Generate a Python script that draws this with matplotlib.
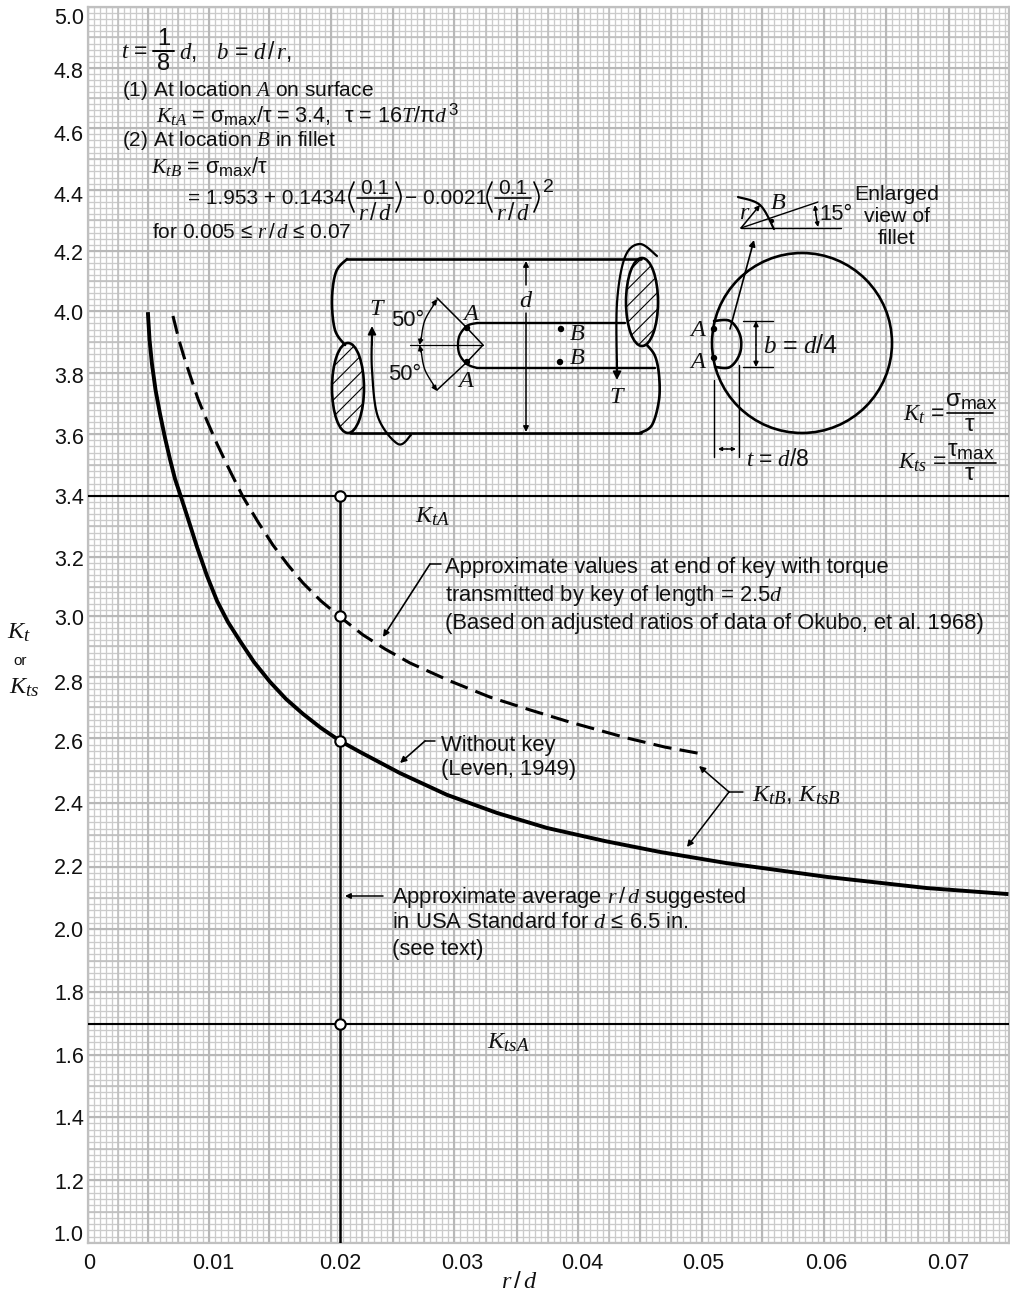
import numpy as np
import matplotlib
matplotlib.use("Agg")
import matplotlib.pyplot as plt
import matplotlib._mathtext as mt
from matplotlib.patches import Ellipse, Circle
from matplotlib.transforms import ScaledTranslation

plt.rcParams['font.family'] = ['Liberation Sans', 'DejaVu Sans']
plt.rcParams['mathtext.fontset'] = 'custom'
plt.rcParams['mathtext.rm'] = 'Liberation Sans'
plt.rcParams['mathtext.it'] = 'Liberation Serif:italic'
plt.rcParams['mathtext.bf'] = 'Liberation Sans:bold'
plt.rcParams['hatch.linewidth'] = 0.8
# subscripts in the book are bigger than the mathtext default
mt.SHRINK_FACTOR = 0.78

# ---------------- DATA ---------------- #

# solid curve, without key
rd_nokey = [0.0050, 0.00513, 0.00533, 0.00563, 0.0060, 0.00642, 0.00683, 0.00725, 0.00774, 0.00839,
            0.00903, 0.00984, 0.01065, 0.01153, 0.0125, 0.01371, 0.01508, 0.01637, 0.01774, 0.01919,
            0.02073, 0.02234, 0.02557, 0.02943, 0.03341, 0.03746, 0.04218, 0.04661, 0.05208, 0.06024,
            0.06826, 0.0746]
kt_nokey = [3.99, 3.906, 3.829, 3.744, 3.666, 3.587, 3.519, 3.455, 3.397, 3.315,
            3.233, 3.136, 3.051, 2.980, 2.918, 2.849, 2.784, 2.728, 2.679, 2.633,
            2.591, 2.557, 2.492, 2.425, 2.369, 2.322, 2.281, 2.247, 2.212, 2.168,
            2.132, 2.113]

# dashed curve, end of key
rd_key = [0.00708, 0.00758, 0.00806, 0.00911, 0.00984, 0.01065, 0.01169, 0.01276, 0.01405, 0.01532,
          0.01653, 0.01774, 0.01919, 0.02073, 0.02258, 0.02435, 0.02639, 0.02967, 0.03286, 0.03607,
          0.03934, 0.04395, 0.04702, 0.05]
kt_key = [3.984, 3.906, 3.842, 3.715, 3.643, 3.568, 3.481, 3.397, 3.315, 3.239,
          3.173, 3.112, 3.051, 2.997, 2.938, 2.892, 2.846, 2.787, 2.734, 2.692,
          2.652, 2.60, 2.572, 2.551]

ktA = 3.4
ktsA = 1.7
rd_avg = 0.0207
kt_circles = [3.4, 3.0, 2.592, 1.7]

x_ticks = [0, 0.01, 0.02, 0.03, 0.04, 0.05, 0.06, 0.07]
x_labels = ['0', '0.01', '0.02', '0.03', '0.04', '0.05', '0.06', '0.07']
y_ticks = [1.0, 1.2, 1.4, 1.6, 1.8, 2.0, 2.2, 2.4, 2.6, 2.8, 3.0,
           3.2, 3.4, 3.6, 3.8, 4.0, 4.2, 4.4, 4.6, 4.8, 5.0]

# the printed grid is slightly uneven, so the scales follow it (pixel of each line)
x_scale_vals = [0, 0.0025, 0.005, 0.0075, 0.01, 0.0125, 0.015, 0.02, 0.025, 0.03, 0.035,
                0.04, 0.045, 0.05, 0.055, 0.06, 0.065, 0.07, 0.0748]
x_scale_px = [88, 118, 148, 178, 209, 240, 269, 331, 393, 454, 517,
              578, 640, 702, 762, 824, 886, 949, 1009]
y_scale_px = [1243, 1180, 1117, 1055, 992, 929, 867, 803, 738, 677, 616,
              557, 496, 434, 373, 311, 251, 190, 128, 68, 7]
# label nudges in pixels, the labels do not sit exactly on the lines
x_label_dx = [1, 4, 9, 8, 4, 1, 2, -1]
y_label_dy = [-10, 1, 0, 0, 0, 0, -1, 0, 3, 5, 1, 1, 0, 2, 2, 1, 1, 4, 5, 2, 9]

# ---------------- AXES ---------------- #

W, H = 1010, 1297
fig = plt.figure(figsize=(W / 100, H / 100), dpi=100)
ax = fig.add_axes([88 / W, 1 - 1243 / H, (1009 - 88) / W, (1243 - 7) / H])

neg_y_px = [-p for p in y_scale_px]
ax.set_xscale('function', functions=(lambda v: np.interp(v, x_scale_vals, x_scale_px),
                                     lambda p: np.interp(p, x_scale_px, x_scale_vals)))
ax.set_yscale('function', functions=(lambda v: np.interp(v, y_ticks, neg_y_px),
                                     lambda p: np.interp(p, neg_y_px, y_ticks)))
ax.set_xlim(0, 0.0748)
ax.set_ylim(1.0, 5.0)

# graph paper
fine = '#cbcbcb'
mid = '#c0c0c0'
heavy = '#b8b8b8'
xs = np.arange(0, 150) * 0.0005
ys = 1.0 + np.arange(0, 201) * 0.02
ax.vlines(xs, 1.0, 5.0, color=fine, lw=0.95, zorder=1)
ax.hlines(ys, 0, 0.0748, color=fine, lw=0.95, zorder=1)
ax.vlines(xs[::5], 1.0, 5.0, color=mid, lw=1.2, zorder=1.1)
ax.hlines(ys[::5], 0, 0.0748, color=mid, lw=1.2, zorder=1.1)
ax.vlines(xs[::10], 1.0, 5.0, color=heavy, lw=1.5, zorder=1.2)
ax.hlines(ys[::10], 0, 0.0748, color=heavy, lw=1.5, zorder=1.2)

for s in ax.spines.values():
    s.set_color('#c0c0c0')
    s.set_linewidth(1.6)

ax.set_xticks(x_ticks, x_labels)
ax.set_yticks(y_ticks, [f'{v:.1f}' for v in y_ticks])
ax.minorticks_off()
ax.tick_params(axis='both', length=0, labelsize=15.5, colors='#111111')
ax.tick_params(axis='x', pad=7)
ax.tick_params(axis='y', pad=3)
for lab, dx in zip(ax.get_xticklabels(), x_label_dx):
    lab.set_transform(lab.get_transform() + ScaledTranslation(dx / 100, 0, fig.dpi_scale_trans))
for lab, dy in zip(ax.get_yticklabels(), y_label_dy):
    lab.set_transform(lab.get_transform() + ScaledTranslation(0, -dy / 100, fig.dpi_scale_trans))

# curves and lines
ax.axhline(ktA, color='k', lw=1.5, zorder=3)
ax.axhline(ktsA, color='k', lw=1.5, zorder=3)
ax.plot([rd_avg, rd_avg], [1.0, ktA], color='k', lw=1.8, zorder=3)
ax.plot(rd_nokey, kt_nokey, color='k', lw=2.8, solid_joinstyle='round', zorder=4)
ax.plot(rd_key, kt_key, color='k', lw=2.2, linestyle=(0, (6.0, 2.7)), zorder=4)
ax.plot([rd_avg] * 4, kt_circles, 'o', ms=7.5, mfc='white', mec='k', mew=1.5, zorder=5)

# ---------------- OVERLAY (pixel coordinates) ---------------- #

ov = fig.add_axes([0, 0, 1, 1], facecolor='none')
ov.set_xlim(0, W)
ov.set_ylim(H, 0)
ov.axis('off')

SANS = 15.85
BLOCK = 15.0
MATH = 17.5


def txt(x, y, s, size=SANS, ha='left', **kw):
    ov.text(x, y + 1, s, fontsize=size, ha=ha, va='center', color='#111111', **kw)


def line(pts, lw=1.2):
    p = np.array(pts, dtype=float)
    ov.plot(p[:, 0], p[:, 1], color='k', lw=lw, solid_capstyle='round', solid_joinstyle='round')


def smooth(pts, lw=1.9):
    # Catmull-Rom through the points, for the hand drawn outlines
    p = np.array(pts, dtype=float)
    p = np.vstack([p[0], p, p[-1]])
    out = []
    for i in range(1, len(p) - 2):
        t = np.linspace(0, 1, 20)[:, None]
        out.append(0.5 * (2 * p[i] + (p[i + 1] - p[i - 1]) * t
                          + (2 * p[i - 1] - 5 * p[i] + 4 * p[i + 1] - p[i + 2]) * t ** 2
                          + (3 * p[i] - p[i - 1] - 3 * p[i + 1] + p[i + 2]) * t ** 3))
    out = np.vstack(out)
    ov.plot(out[:, 0], out[:, 1], color='k', lw=lw, solid_capstyle='round')


def arrow(tail, tip, lw=1.1, size=9, style='-|>'):
    ov.annotate('', xy=tip, xytext=tail,
                arrowprops=dict(arrowstyle=style, color='k', lw=lw, mutation_scale=size,
                                shrinkA=0, shrinkB=0))


def dot(x, y, r=3.2):
    ov.add_patch(Circle((x, y), r, fc='k', ec='none'))


def paren_frac(cx):
    # (0.1 over r/d) with tall brackets
    txt(cx, 187, '0.1', ha='center', size=BLOCK)
    txt(cx, 212, r'$r\,/\,d$', ha='center', size=16.5)
    line([(cx - 18, 198), (cx + 18, 198)], 1.2)
    smooth([(cx - 21, 182), (cx - 26, 197), (cx - 21, 212)], 1.2)
    smooth([(cx + 21, 182), (cx + 26, 197), (cx + 21, 212)], 1.2)


# formula block
txt(121, 51, r'$t\,=$', size=16.5)
txt(164, 38, '1', ha='center', size=17)
txt(164, 63, '8', ha='center', size=17)
line([(153, 51), (174, 51)], 1.4)
txt(179, 51, r'$d,\ \ \ b\,=\,d\,/\,r,$', size=16.5)
txt(122, 90, r'(1) At location $A$ on surface', size=BLOCK)
txt(156, 114, r'$K_{tA}\,=\,\mathrm{\sigma_{max}}/\mathrm{\tau}\,=\,\mathrm{3.4,}\ \ \mathrm{\tau}\,=\,\mathrm{16}T/\mathrm{\pi}d^{\,\mathrm{3}}$', size=15.6)
txt(122, 139, r'(2) At location $B$ in fillet', size=BLOCK)
txt(151, 166, r'$K_{tB}\,=\,\mathrm{\sigma_{max}}/\mathrm{\tau}$', size=15.6)
txt(188, 197, '= 1.953 + 0.1434', size=BLOCK)
paren_frac(375)
txt(405, 197, '− 0.0021', size=BLOCK)
paren_frac(513)
txt(543, 186, '2', size=14)
txt(152, 232, r'for 0.005 ≤ $r\,/\,d$ ≤ 0.07', size=BLOCK)

# shaft drawing
ov.add_patch(Ellipse((348, 388), 32, 90, fc='none', ec='k', lw=1.9, hatch='//'))
ov.add_patch(Ellipse((642, 302), 32, 88, fc='none', ec='k', lw=1.9, hatch='//'))
line([(347, 259), (641, 259)], 1.9)
line([(350, 433), (641, 433)], 1.9)
smooth([(347, 259), (336, 272), (332, 300), (335, 330), (345, 345)])
smooth([(647, 345), (655, 356), (659, 375), (659, 400), (652, 425), (640, 433)])
line([(477, 323), (625, 323)], 1.7)
line([(477, 368), (655, 368)], 1.7)
smooth([(477, 323), (467, 326), (459, 337), (459, 353), (467, 364), (477, 368)], 1.7)
dot(467, 328)
dot(467, 362)
line([(437, 298), (467, 328), (483, 345), (467, 362), (437, 390)], 1.1)
line([(410, 345), (483, 345)], 0.9)
smooth([(421, 340), (425, 320), (437, 300)], 1.0)
smooth([(421, 350), (425, 370), (437, 390)], 1.0)
arrow((433, 305), (437, 299), size=7)
arrow((421, 338), (419.5, 345), size=7)
arrow((421, 352), (419.5, 345), size=7)
arrow((433, 385), (437, 391), size=7)
txt(408, 320, '50°', ha='center')
txt(405, 373, '50°', ha='center')
txt(377, 308, r'$T$', ha='center', size=MATH)
txt(617, 396, r'$T$', ha='center', size=MATH)
txt(471, 313, r'$A$', ha='center', size=MATH)
txt(466, 380, r'$A$', ha='center', size=MATH)
dot(561, 329)
dot(560, 362)
txt(577, 333, r'$B$', ha='center', size=MATH)
txt(577, 357, r'$B$', ha='center', size=MATH)
txt(526, 300, r'$d$', ha='center', size=MATH)
arrow((526, 285), (526, 261), size=8)
arrow((526, 313), (526, 432), size=8)
smooth([(372, 335), (372, 370), (378, 417), (398, 444), (411, 435)], 1.6)
arrow((372, 345), (372, 326), lw=1.3, size=12)
smooth([(657, 256), (640, 244), (625, 257), (617, 303), (617, 372)], 1.6)
arrow((617, 360), (617, 380), lw=1.3, size=12)

# cross section drawing
ov.add_patch(Circle((802, 343), 90, fc='none', ec='k', lw=1.9))
smooth([(714, 321), (730, 321), (740, 335), (740, 353), (730, 367), (715, 367)], 1.9)
dot(714, 329)
dot(714, 358)
txt(698, 329, r'$A$', ha='center', size=MATH)
txt(698, 361, r'$A$', ha='center', size=MATH)
arrow((730, 329), (754, 240), lw=1.2, size=9)
line([(743, 321), (773, 321)], 1.0)
line([(743, 367), (773, 367)], 1.0)
arrow((756, 345), (756, 321), size=7)
arrow((756, 345), (756, 367), size=7)
txt(763, 345, r'$b\,=\,d/\mathrm{4}$', size=18)
line([(714, 380), (714, 457)], 1.0)
line([(739, 365), (739, 457)], 1.0)
arrow((727, 449), (718, 449), size=5)
arrow((727, 449), (736, 449), size=5)
txt(746, 458, r'$t\,=\,d/\mathrm{8}$', size=16.5)

# enlarged fillet
line([(741, 228), (841, 228)], 1.0)
line([(741, 228), (818, 202)], 1.0)
smooth([(738, 197), (760, 205), (774, 229)], 1.6)
arrow((741, 228), (760, 205), size=7)
dot(772, 221, 2.2)
txt(745, 212, r'$r$', ha='center', size=MATH)
txt(778, 202, r'$B$', ha='center', size=MATH)
arrow((816, 215), (815, 205), size=6)
arrow((816, 215), (818, 227), size=6)
txt(836, 213, '15°', ha='center', size=SANS)
txt(897, 193, 'Enlarged', ha='center', size=15.3)
txt(897, 215, 'view of', ha='center', size=15.3)
txt(897, 237, 'fillet', ha='center', size=15.3)

# definitions on the right
txt(903, 413, r'$K_t\,=$', size=16.5)
line([(947, 413), (993, 413)], 1.2)
txt(971, 400, r'$\mathrm{\sigma_{max}}$', ha='center', size=MATH)
txt(970, 424, r'$\mathrm{\tau}$', ha='center', size=MATH)
txt(898, 461, r'$K_{ts}\,=$', size=16.5)
line([(949, 463), (996, 463)], 1.2)
txt(971, 450, r'$\mathrm{\tau_{max}}$', ha='center', size=MATH)
txt(970, 473, r'$\mathrm{\tau}$', ha='center', size=MATH)

# curve labels
txt(415, 516, r'$K_{tA}$', size=MATH)
txt(487, 1042, r'$K_{tsA}$', size=MATH)
txt(445, 566, 'Approximate values  at end of key with torque')
txt(445, 594, r'transmitted by key of length = 2.5$d$')
txt(445, 622, '(Based on adjusted ratios of data of Okubo, et al. 1968)')
line([(441, 564), (430, 564)], 1.1)
arrow((430, 564), (383, 637), lw=1.2, size=9)
txt(441, 744, 'Without key')
txt(441, 769, '(Leven, 1949)')
line([(435, 741), (425, 741)], 1.1)
arrow((425, 741), (400, 763), lw=1.2, size=9)
txt(752, 795, r'$K_{tB},\,K_{tsB}$', size=MATH)
line([(743, 792), (729, 792)], 1.1)
arrow((729, 792), (699, 766), lw=1.1, size=9)
arrow((729, 792), (687, 847), lw=1.1, size=9)
arrow((383, 896), (345, 896), lw=1.1, size=8)
txt(392, 896, r'Approximate average $r\,/\,d$ suggested')
txt(392, 922, r'in USA Standard for $d$ ≤ 6.5 in.')
txt(392, 948, '(see text)')

# axis labels
txt(19, 632, r'$K_t$', ha='center', size=MATH)
txt(20, 660, 'or', ha='center', size=11)
txt(24, 687, r'$K_{ts}$', ha='center', size=MATH)
txt(519, 1281, r'$r\,/\,d$', ha='center', size=MATH)

fig.savefig('out.png', dpi=100)
